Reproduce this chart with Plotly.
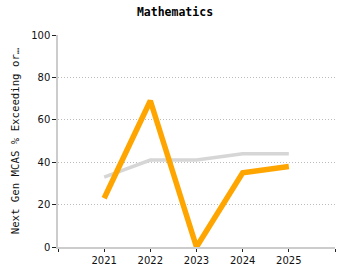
import plotly.graph_objects as go

years = [2021, 2022, 2023, 2024, 2025]
school = [23, 69, 0, 35, 38]
state = [33, 41, 41, 44, 44]
tick_vals = [2020, 2021, 2022, 2023, 2024, 2025, 2026]
tick_text = ["", "2021", "2022", "2023", "2024", "2025", ""]

fig = go.Figure()
fig.add_trace(go.Scatter(x=years, y=state, mode="lines",
                         line=dict(color="#d6d6d6", width=3.5), showlegend=False))
fig.add_trace(go.Scatter(x=years, y=school, mode="lines",
                         line=dict(color="#ffa500", width=5.5), showlegend=False))

fig.update_layout(
    width=350, height=280,
    margin=dict(l=58, r=15, t=35, b=33),
    paper_bgcolor="white", plot_bgcolor="white",
    font=dict(family="DejaVu Sans", size=10, color="#111"),
    title=dict(text="<b>Mathematics</b>", x=0.5, xanchor="center", y=0.97, yanchor="top",
               font=dict(family="DejaVu Sans Mono", size=11.5, color="#000")),
)
fig.update_xaxes(range=[2020, 2026], tickmode="array", tickvals=tick_vals, ticktext=tick_text,
                 showgrid=False, zeroline=False, showline=True, linecolor="#ccc", linewidth=1.5,
                 ticks="outside", ticklen=3, tickcolor="#222", tickfont=dict(size=10))
fig.update_yaxes(range=[0, 100], tickvals=[0, 20, 40, 60, 80, 100],
                 showgrid=True, gridcolor="#bbb", griddash="1px,2px", gridwidth=1,
                 zeroline=False, showline=True, linecolor="#ccc", linewidth=1.5,
                 ticks="outside", ticklen=4, tickcolor="#222", tickfont=dict(size=10),
                 title=dict(text="Next Gen MCAS % Exceeding or…",
                            font=dict(family="DejaVu Sans Mono", size=10.7), standoff=9))

fig.write_html("out.html")
